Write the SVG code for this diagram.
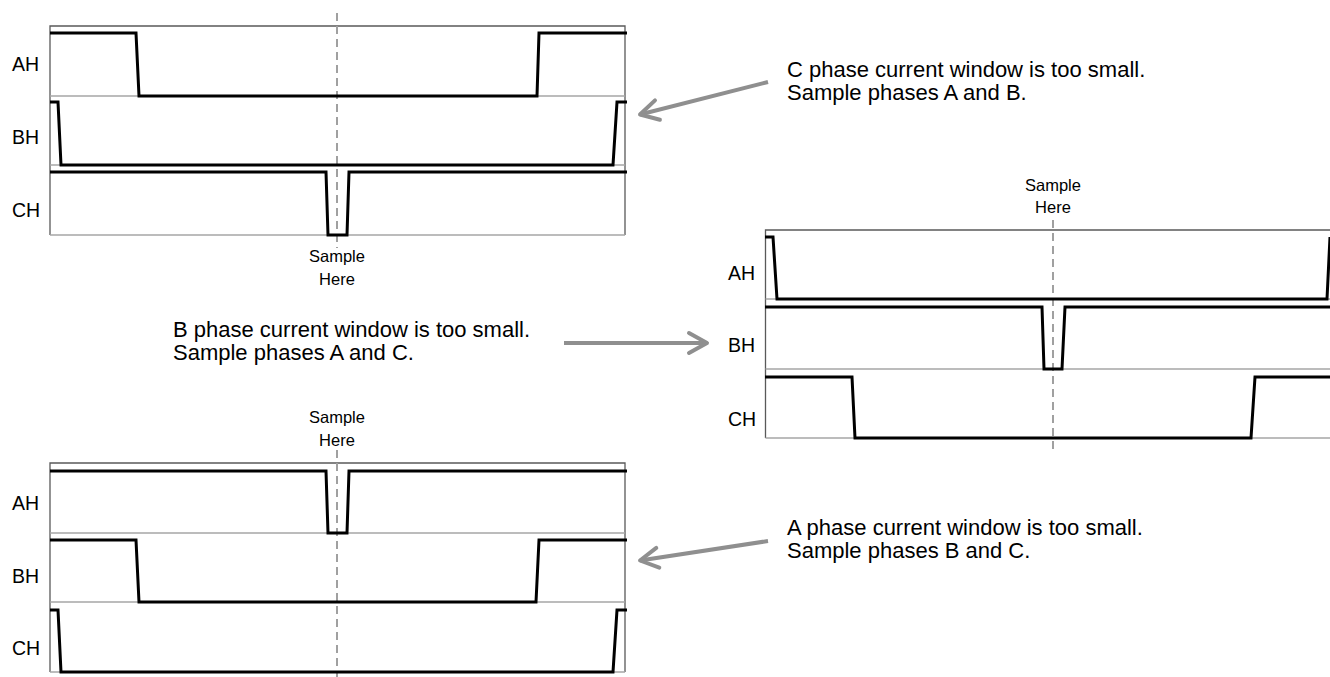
<svg xmlns="http://www.w3.org/2000/svg" width="1330" height="677" viewBox="0 0 1330 677">
<style>
  .frame{fill:none;stroke:#595959;stroke-width:1.3}
  .sep{fill:none;stroke:#a6a6a6;stroke-width:1.6}
  .trace{fill:none;stroke:#000;stroke-width:3;stroke-linejoin:miter}
  .dash{fill:none;stroke:#a0a0a0;stroke-width:2;stroke-dasharray:8 5}
  .lbl{font-family:"Liberation Sans",Arial,sans-serif;font-size:19.5px;fill:#000}
  .smp{font-family:"Liberation Sans",Arial,sans-serif;font-size:16.5px;fill:#000;text-anchor:middle}
  .note{font-family:"Liberation Sans",Arial,sans-serif;font-size:22px;fill:#000}
  .arr{fill:none;stroke:#8f8f8f;stroke-width:4}
</style>
<defs>
  <marker id="chev" markerUnits="userSpaceOnUse" markerWidth="30" markerHeight="30" viewBox="-25 -15 30 30" refX="0" refY="0" orient="auto" overflow="visible">
    <path d="M -18 -10 L 0 0 L -18 10" fill="none" stroke="#8f8f8f" stroke-width="4" stroke-linecap="round" stroke-linejoin="round"/>
  </marker>
</defs>
<rect width="1330" height="677" fill="#fff"/>

<g id="panel-top">
  <path class="frame" d="M50 235 V26 H625 V235"/>
  <path class="sep" d="M50 96 H625 M50 165 H625 M50 235 H625"/>
  <path class="dash" d="M337 13 V248"/>
  <path class="trace" d="M50 33 H136 L139 96 H537 L539 33 H627"/>
  <path class="trace" d="M50 102 H58 L61 165 H613 L617 102 H627"/>
  <path class="trace" d="M50 172 H326 L328 235 H347 L349 172 H627"/>
  <text class="lbl" x="12" y="71">AH</text>
  <text class="lbl" x="12" y="144">BH</text>
  <text class="lbl" x="12" y="217">CH</text>
  <text class="smp" x="337" y="262">Sample</text>
  <text class="smp" x="337" y="285">Here</text>
</g>

<g id="panel-right">
  <path class="frame" d="M765.5 438 V230 H1330"/>
  <path class="sep" d="M765.5 299 H1330 M765.5 369 H1330 M765.5 438 H1330"/>
  <path class="dash" d="M1053 220 V452"/>
  <path class="trace" d="M765 237 H773 L777 299 H1327 L1330 237"/>
  <path class="trace" d="M765 307 H1042 L1044 369 H1062 L1065 307 H1330"/>
  <path class="trace" d="M765 377 H852 L855 438 H1251 L1255 377 H1330"/>
  <text class="lbl" x="728" y="280">AH</text>
  <text class="lbl" x="728" y="352">BH</text>
  <text class="lbl" x="728" y="426">CH</text>
  <text class="smp" x="1053" y="191">Sample</text>
  <text class="smp" x="1053" y="213">Here</text>
</g>

<g id="panel-bottom">
  <path class="frame" d="M50 672 V463 H625 V672"/>
  <path class="sep" d="M50 533 H625 M50 602 H625 M50 672 H625"/>
  <path class="dash" d="M337 450 V677"/>
  <path class="trace" d="M50 471 H326 L328 533 H347 L349 471 H627"/>
  <path class="trace" d="M50 540 H136 L139 602 H536 L539 540 H627"/>
  <path class="trace" d="M50 610 H58 L61 672 H613 L617 610 H627"/>
  <text class="lbl" x="12" y="510">AH</text>
  <text class="lbl" x="12" y="583">BH</text>
  <text class="lbl" x="12" y="655">CH</text>
  <text class="smp" x="337" y="423">Sample</text>
  <text class="smp" x="337" y="446">Here</text>
</g>

<g id="note-c">
  <text class="note" x="787" y="77">C phase current window is too small.</text>
  <text class="note" x="787" y="99.5">Sample phases A and B.</text>
</g>
<g id="note-b">
  <text class="note" x="173" y="337">B phase current window is too small.</text>
  <text class="note" x="173" y="359.5">Sample phases A and C.</text>
</g>
<g id="note-a">
  <text class="note" x="787" y="535">A phase current window is too small.</text>
  <text class="note" x="787" y="557.5">Sample phases B and C.</text>
</g>

<g id="connectors">
  <path class="arr" d="M768 82 L640 114.5" marker-end="url(#chev)"/>
  <path class="arr" d="M564 343 L707 343" marker-end="url(#chev)"/>
  <path class="arr" d="M768 541 L640 560.5" marker-end="url(#chev)"/>
</g>
</svg>
